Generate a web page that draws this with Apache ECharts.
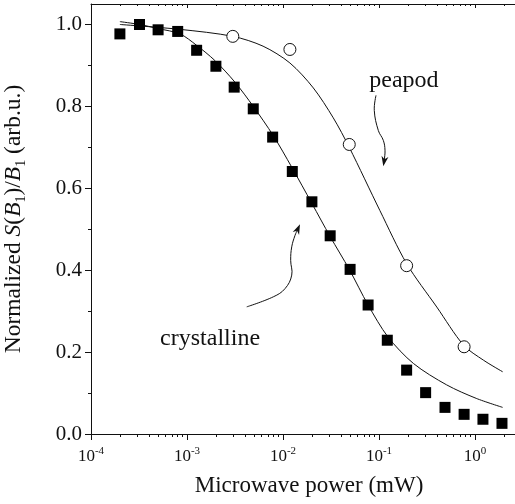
<!DOCTYPE html>
<html>
<head>
<meta charset="utf-8">
<script src="https://cdn.jsdelivr.net/npm/echarts@6/dist/echarts.min.js"></script>
<style>
  html, body { margin: 0; padding: 0; background: #fff; }
  #chart { width: 515px; height: 504px; }
</style>
</head>
<body>
<div id="chart"></div>
<script>
const crystallinePower = [2.0e-4, 3.2e-4, 5.0e-4, 8.0e-4, 1.26e-3, 2.0e-3, 3.1e-3, 4.9e-3, 7.8e-3, 1.25e-2, 2.0e-2, 3.1e-2, 5.0e-2, 7.7e-2, 0.122, 0.194, 0.306, 0.487, 0.77, 1.21, 1.91]
const crystallineSignal = [0.977, 1.0, 0.987, 0.983, 0.937, 0.898, 0.847, 0.794, 0.725, 0.641, 0.567, 0.484, 0.402, 0.315, 0.229, 0.156, 0.101, 0.065, 0.048, 0.036, 0.026]
const peapodPower = [3.0e-3, 1.18e-2, 4.9e-2, 0.194, 0.77]
const peapodSignal = [0.971, 0.939, 0.707, 0.411, 0.213]

// fitted curves
const crystallineFitPower = [2.0e-4, 3.2e-4, 5.0e-4, 8.45e-4, 1.26e-3, 1.95e-3, 3.16e-3, 4.9e-3, 7.9e-3, 1.23e-2, 2.0e-2, 3.1e-2, 4.9e-2, 7.7e-2, 0.124, 0.229, 0.506, 1.03, 1.94]
const crystallineFitSignal = [1.007, 1.0, 0.99, 0.977, 0.949, 0.912, 0.859, 0.80, 0.729, 0.652, 0.563, 0.482, 0.402, 0.315, 0.237, 0.172, 0.12, 0.087, 0.065]
const peapodFitPower = [2.0e-4, 8.5e-4, 3.0e-3, 6.2e-3, 1.18e-2, 2.07e-2, 3.34e-2, 4.9e-2, 0.102, 0.194, 0.40, 0.76, 1.23, 1.94]
const peapodFitSignal = [1.0, 0.988, 0.971, 0.947, 0.906, 0.845, 0.772, 0.70, 0.546, 0.416, 0.31, 0.217, 0.18, 0.152]

// axis ticks
const xMajorTicks = [1e-4, 1e-3, 1e-2, 1e-1, 1]
const xDecades = [1e-4, 1e-3, 1e-2, 1e-1, 1]
const xMinorSteps = [2, 3, 4, 5, 6, 7, 8, 9]
const yMajorTicks = [0, 0.2, 0.4, 0.6, 0.8, 1.0]
const yMinorTicks = [0.1, 0.3, 0.5, 0.7, 0.9]

// annotation anchors in data coordinates
const peapodLabelAt = [0.182, 0.863]
const crystallineLabelAt = [1.74e-3, 0.232]
const peapodArrow = [[0.0931, 0.827], [0.0893, 0.79], [0.0984, 0.741], [0.1109, 0.717], [0.1155, 0.693], [0.1135, 0.668], [0.1109, 0.654]]
const crystallineArrow = [[4.19e-3, 0.3105], [7.93e-3, 0.335], [1.05e-2, 0.355], [1.233e-2, 0.388], [1.202e-2, 0.424], [1.233e-2, 0.457], [1.334e-2, 0.485], [1.503e-2, 0.512]]

const xMinorTicks = []
xDecades.forEach(d => xMinorSteps.forEach(m => {
  const v = +(d * m).toPrecision(3)
  if (v < 2.61) xMinorTicks.push(v)
}))

const FONT = '"Liberation Serif", "DejaVu Serif", serif'
const INK = '#111'
const X_MIN = 1e-4
const X_MAX = 2.61

const zip = (xs, ys) => xs.map((x, i) => [x, ys[i]])

function logAxis(extra) {
  return Object.assign({
    type: 'log',
    logBase: 10,
    min: X_MIN,
    max: X_MAX,
    splitLine: { show: false },
    axisLine: { show: false },
    axisLabel: { show: false },
  }, extra)
}

function valueAxis(extra) {
  return Object.assign({
    type: 'value',
    min: 0,
    max: 1.05,
    splitLine: { show: false },
    axisLine: { show: false },
    axisLabel: { show: false },
  }, extra)
}

const chart = echarts.init(document.getElementById('chart'))

chart.setOption({
  animation: false,
  backgroundColor: '#fff',
  textStyle: { fontFamily: FONT, color: INK },
  grid: { left: 91, right: 0, top: 4, bottom: 70, outerBoundsMode: 'none' },
  xAxis: [
    logAxis({
      position: 'bottom',
      axisLine: { show: true, lineStyle: { color: INK, width: 1 } },
      axisTick: { show: true, customValues: xMajorTicks, length: 6, lineStyle: { color: INK } },
      axisLabel: {
        show: true,
        customValues: xMajorTicks,
        margin: 12,
        formatter: v => `{b|10}{s|${Math.round(Math.log10(v))}}`,
        rich: {
          b: { fontFamily: FONT, fontSize: 17, color: INK, lineHeight: 22 },
          s: { fontFamily: FONT, fontSize: 11, color: INK, lineHeight: 10, verticalAlign: 'top' },
        },
      },
      name: 'Microwave power (mW)',
      nameLocation: 'middle',
      nameGap: 40,
      nameTextStyle: { fontFamily: FONT, fontSize: 23, color: INK, padding: [0, 0, 0, 12] },
    }),
    logAxis({
      position: 'bottom',
      axisTick: { show: true, customValues: xMinorTicks, length: 3, lineStyle: { color: INK } },
    }),
    logAxis({
      position: 'top',
      axisLine: { show: true, lineStyle: { color: INK, width: 1 } },
      axisTick: { show: true, inside: true, customValues: xMajorTicks, length: 4, lineStyle: { color: INK } },
    }),
    logAxis({
      position: 'top',
      axisTick: { show: true, inside: true, customValues: xMinorTicks, length: 2, lineStyle: { color: INK } },
    }),
  ],
  yAxis: [
    valueAxis({
      position: 'left',
      axisLine: { show: true, lineStyle: { color: INK, width: 1 } },
      axisTick: { show: true, customValues: yMajorTicks, length: 6, lineStyle: { color: INK } },
      axisLabel: {
        show: true,
        customValues: yMajorTicks,
        margin: 9,
        fontFamily: FONT,
        fontSize: 21,
        color: INK,
        formatter: v => v.toFixed(1),
      },
      name: 'Normalized {i|S}({i|B}{sub|1})/{i|B}{sub|1} (arb.u.)',
      nameLocation: 'middle',
      nameGap: 63,
      nameTextStyle: {
        fontFamily: FONT,
        fontSize: 23.5,
        color: INK,
        lineHeight: 28,
        rich: {
          i: { fontFamily: FONT, fontSize: 23.5, fontStyle: 'italic', color: INK, lineHeight: 28 },
          sub: { fontFamily: FONT, fontSize: 14, color: INK, lineHeight: 16, verticalAlign: 'bottom' },
        },
      },
    }),
    valueAxis({
      position: 'left',
      axisTick: { show: true, customValues: yMinorTicks, length: 3, lineStyle: { color: INK } },
    }),
  ],
  series: [
    {
      name: 'crystalline fit',
      type: 'line',
      data: zip(crystallineFitPower, crystallineFitSignal),
      showSymbol: false,
      symbol: 'none',
      smooth: 0.3,
      lineStyle: { color: INK, width: 1 },
      z: 2,
    },
    {
      name: 'peapod fit',
      type: 'line',
      data: zip(peapodFitPower, peapodFitSignal),
      showSymbol: false,
      symbol: 'none',
      smooth: 0.3,
      lineStyle: { color: INK, width: 1 },
      z: 2,
    },
    {
      name: 'crystalline',
      type: 'scatter',
      data: zip(crystallinePower, crystallineSignal),
      symbol: 'rect',
      symbolSize: 11,
      itemStyle: { color: '#000', opacity: 1 },
      z: 3,
    },
    {
      name: 'peapod',
      type: 'scatter',
      data: zip(peapodPower, peapodSignal),
      symbol: 'circle',
      symbolSize: 12,
      itemStyle: { color: '#fff', borderColor: INK, borderWidth: 1, opacity: 1 },
      z: 3,
    },
  ],
})

// annotations: place them through the grid's own coordinate conversion
function toPx(p) {
  return chart.convertToPixel({ xAxisIndex: 0, yAxisIndex: 0 }, p)
}

function arrowGraphics(points) {
  const px = points.map(toPx)
  const tip = px[px.length - 1]
  const prev = px[px.length - 2]
  let dx = tip[0] - prev[0]
  let dy = tip[1] - prev[1]
  const len = Math.hypot(dx, dy) || 1
  dx /= len
  dy /= len
  const L = 10
  const W = 3.5
  const base = [tip[0] - dx * L, tip[1] - dy * L]
  const notch = [tip[0] - dx * L * 0.7, tip[1] - dy * L * 0.7]
  const body = px.slice(0, -1).concat([notch])
  return [
    {
      type: 'polyline',
      shape: { points: body, smooth: 0.4 },
      style: { stroke: INK, lineWidth: 1, fill: null },
      z: 10,
    },
    {
      type: 'polygon',
      shape: {
        points: [
          tip,
          [base[0] - dy * W, base[1] + dx * W],
          notch,
          [base[0] + dy * W, base[1] - dx * W],
        ],
      },
      style: { fill: INK, stroke: null },
      z: 10,
    },
  ]
}

function labelGraphic(text, at) {
  const p = toPx(at)
  return {
    type: 'text',
    x: p[0],
    y: p[1],
    style: {
      text,
      font: `24px ${FONT}`,
      fill: INK,
      align: 'center',
      verticalAlign: 'middle',
      textAlign: 'center',
      textVerticalAlign: 'middle',
    },
    z: 10,
  }
}

chart.setOption({
  graphic: [
    labelGraphic('peapod', peapodLabelAt),
    labelGraphic('crystalline', crystallineLabelAt),
    ...arrowGraphics(peapodArrow),
    ...arrowGraphics(crystallineArrow),
  ],
})
</script>
</body>
</html>
